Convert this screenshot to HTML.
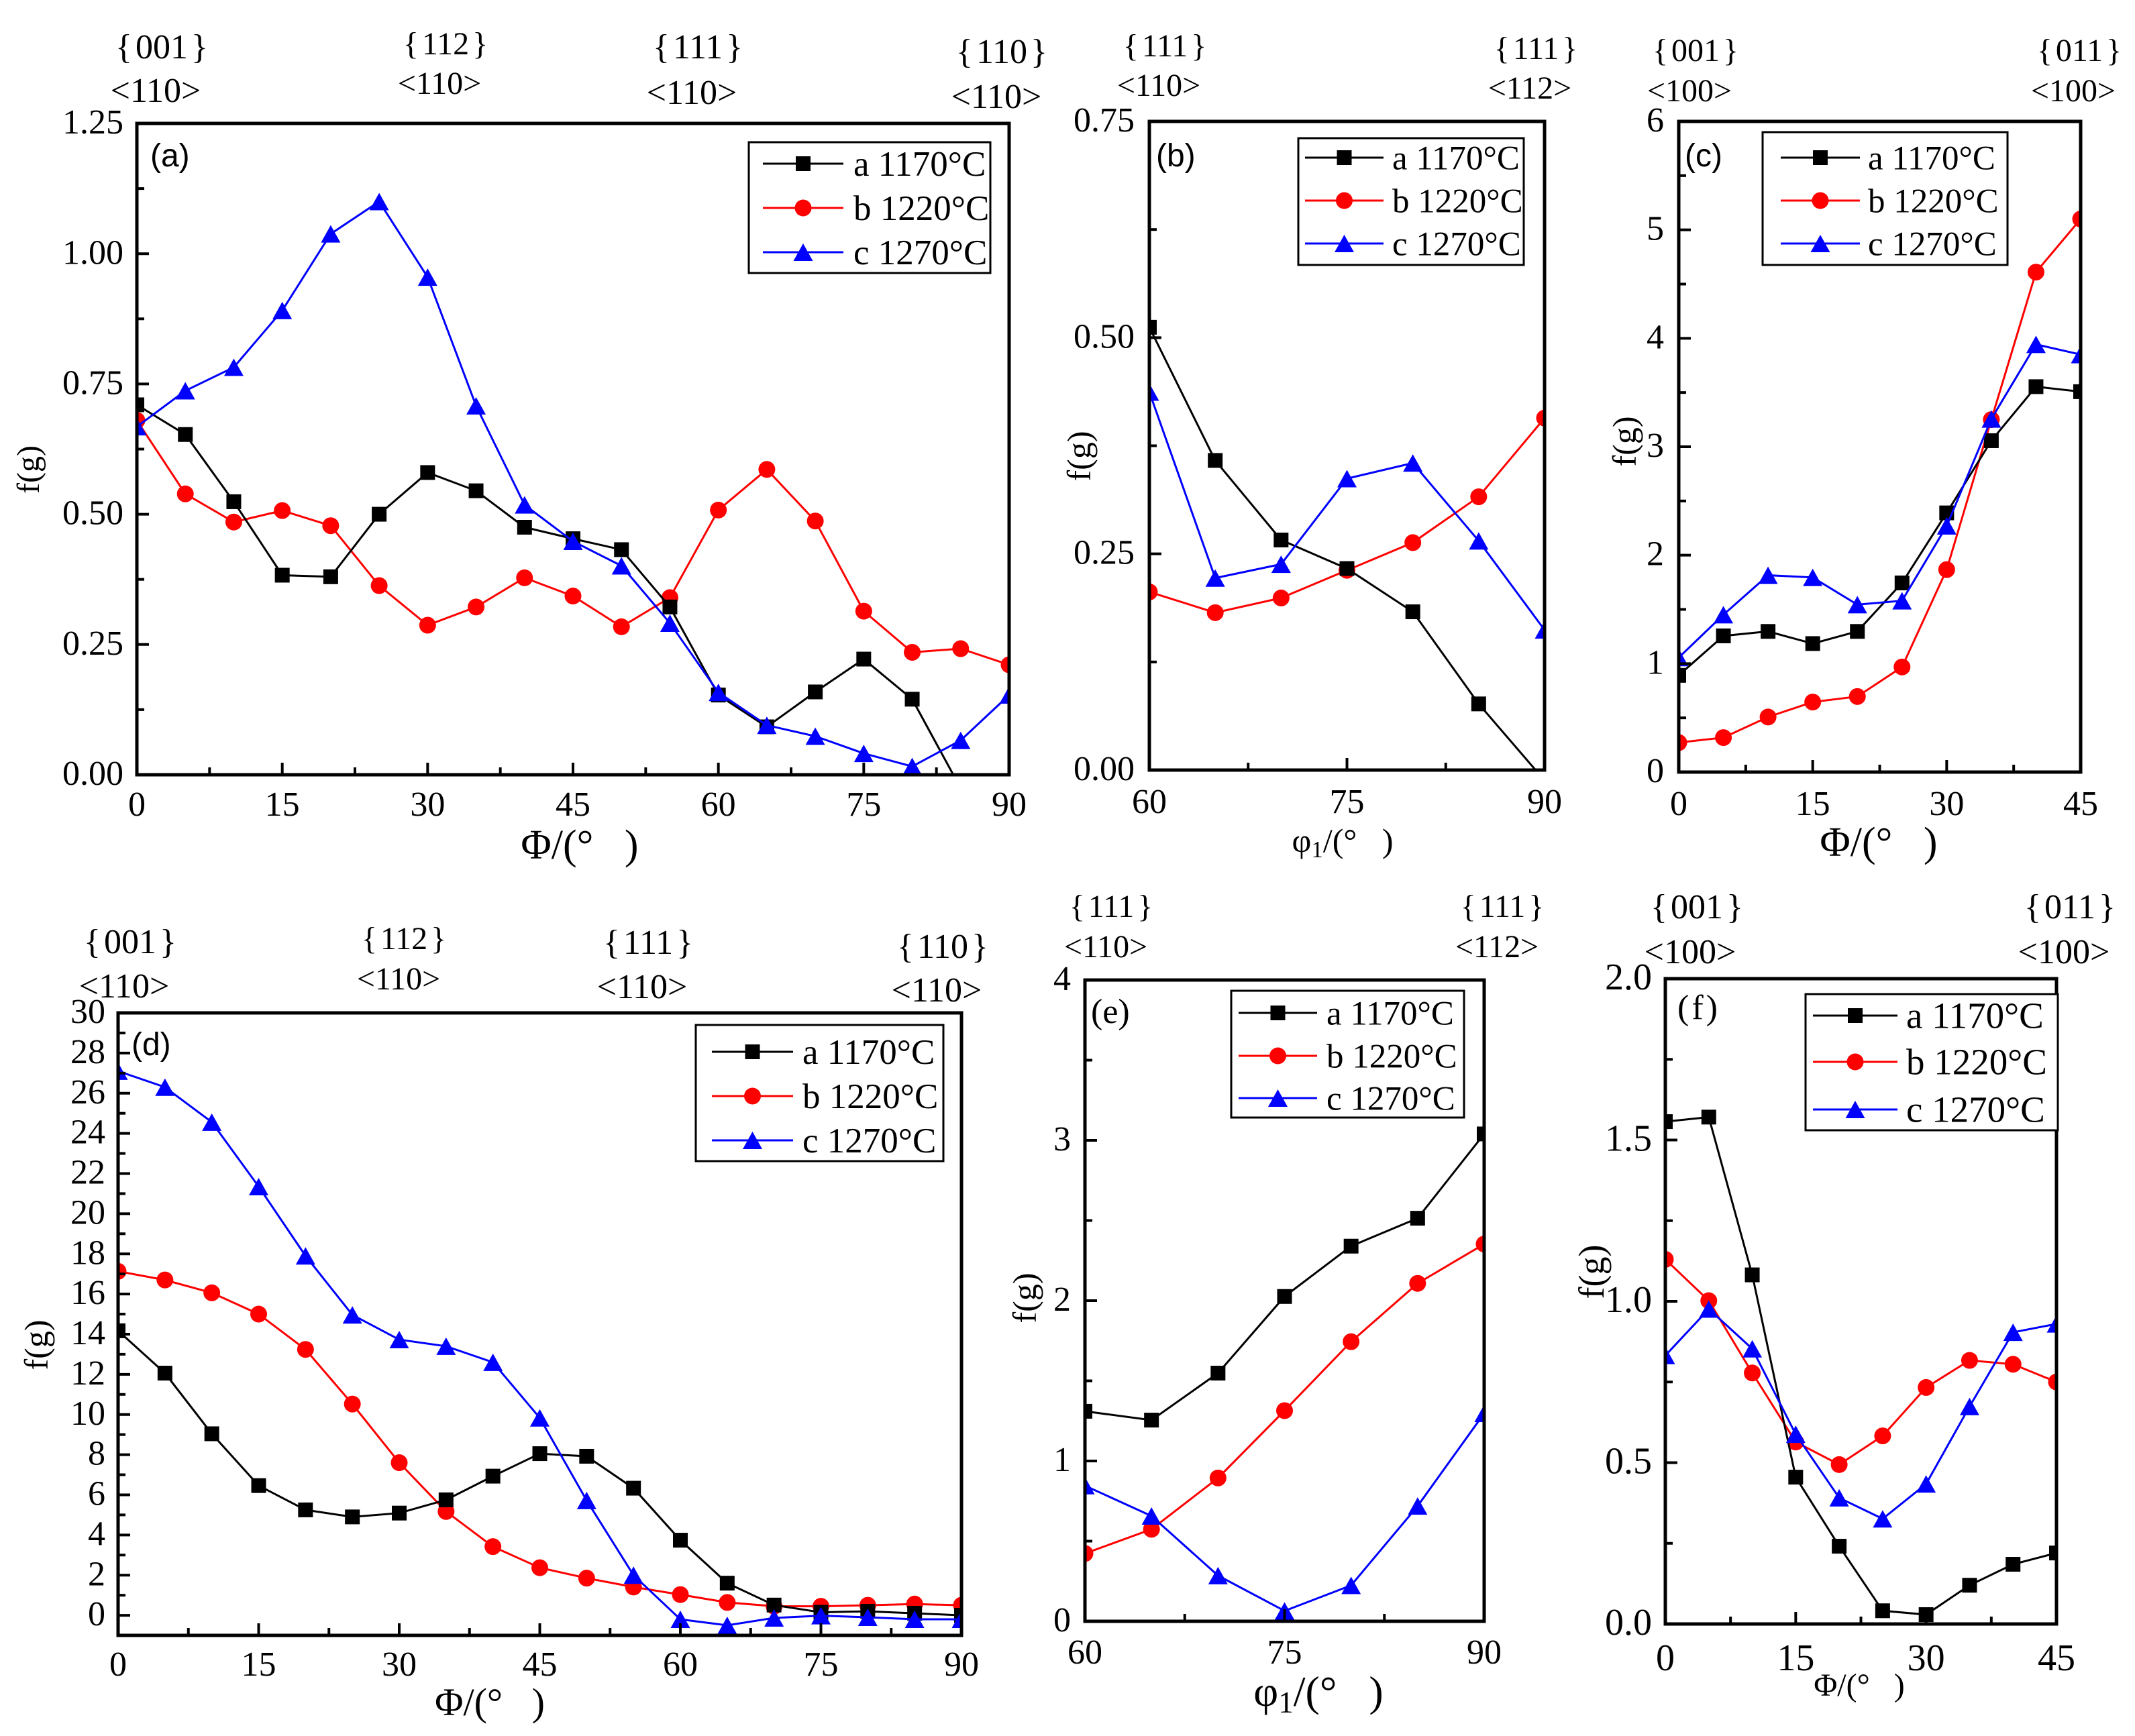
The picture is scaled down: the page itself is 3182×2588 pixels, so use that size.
<!DOCTYPE html>
<html lang="en">
<head>
<meta charset="utf-8">
<title>Orientation density f(g) panels</title>
<style>
html,body{margin:0;padding:0;background:#fff}
svg{display:block}
text{font-family:"Liberation Serif","Noto Serif CJK SC",serif;fill:#000;white-space:pre}
.sans{font-family:"Liberation Sans","Noto Sans CJK SC",sans-serif}
</style>
</head>
<body>
<svg id="figure" xmlns="http://www.w3.org/2000/svg" width="3182" height="2588" viewBox="0 0 3182 2588">
<rect x="0" y="0" width="3182" height="2588" fill="#fff"/>

<g font-size="52" text-anchor="middle">
<text x="241" y="87">{<tspan dx="5">001</tspan><tspan dx="5">}</tspan></text>
<text x="232" y="152">&lt;110&gt;</text>
<text x="664" y="81" font-size="48">{<tspan dx="5">112</tspan><tspan dx="5">}</tspan></text>
<text x="655" y="140" font-size="48">&lt;110&gt;</text>
<text x="1040" y="87">{<tspan dx="5">111</tspan><tspan dx="5">}</tspan></text>
<text x="1031" y="155">&lt;110&gt;</text>
<text x="1493" y="94">{<tspan dx="5">110</tspan><tspan dx="5">}</tspan></text>
<text x="1485" y="161">&lt;110&gt;</text>
</g>
<g font-size="48" text-anchor="middle">
<text x="1736" y="84">{<tspan dx="5">111</tspan><tspan dx="5">}</tspan></text>
<text x="1727" y="143">&lt;110&gt;</text>
<text x="2289" y="88">{<tspan dx="5">111</tspan><tspan dx="5">}</tspan></text>
<text x="2280" y="147">&lt;112&gt;</text>
</g>
<g font-size="48" text-anchor="middle">
<text x="2527" y="91">{<tspan dx="5">001</tspan><tspan dx="5">}</tspan></text>
<text x="2518" y="151">&lt;100&gt;</text>
<text x="3099" y="91">{<tspan dx="5">011</tspan><tspan dx="5">}</tspan></text>
<text x="3090" y="151">&lt;100&gt;</text>
</g>
<g font-size="52" text-anchor="middle">
<text x="194" y="1421">{<tspan dx="5">001</tspan><tspan dx="5">}</tspan></text>
<text x="185" y="1487">&lt;110&gt;</text>
<text x="602" y="1415" font-size="48">{<tspan dx="5">112</tspan><tspan dx="5">}</tspan></text>
<text x="594" y="1475" font-size="48">&lt;110&gt;</text>
<text x="966" y="1422">{<tspan dx="5">111</tspan><tspan dx="5">}</tspan></text>
<text x="957" y="1488">&lt;110&gt;</text>
<text x="1405" y="1428">{<tspan dx="5">110</tspan><tspan dx="5">}</tspan></text>
<text x="1396" y="1493">&lt;110&gt;</text>
</g>
<g font-size="48" text-anchor="middle">
<text x="1656" y="1367">{<tspan dx="5">111</tspan><tspan dx="5">}</tspan></text>
<text x="1648" y="1427">&lt;110&gt;</text>
<text x="2239" y="1367">{<tspan dx="5">111</tspan><tspan dx="5">}</tspan></text>
<text x="2231" y="1427">&lt;112&gt;</text>
</g>
<g font-size="52" text-anchor="middle">
<text x="2529" y="1369">{<tspan dx="5">001</tspan><tspan dx="5">}</tspan></text>
<text x="2519" y="1436">&lt;100&gt;</text>
<text x="3085" y="1369">{<tspan dx="5">011</tspan><tspan dx="5">}</tspan></text>
<text x="3076" y="1436">&lt;100&gt;</text>
</g>

<g text-anchor="middle">
<text x="864" y="1280" font-size="62">Φ/(°   )</text>
<text x="2001" y="1270" font-size="50">φ<tspan font-size="35" dy="8">1</tspan><tspan dy="-8">/(°   )</tspan></text>
<text x="2800" y="1276" font-size="62">Φ/(°   )</text>
<text x="730" y="2557" font-size="58">Φ/(°   )</text>
<text x="1965" y="2543" font-size="64">φ<tspan font-size="45" dy="10">1</tspan><tspan dy="-10">/(°   )</tspan></text>
<text x="2771" y="2528" font-size="48">Φ/(°   )</text>
</g>

<g text-anchor="middle">
<text transform="translate(58 700) rotate(-90)" font-size="48">f(g)</text>
<text transform="translate(1625 680) rotate(-90)" font-size="50">f(g)</text>
<text transform="translate(2438 658) rotate(-90)" font-size="50">f(g)</text>
<text transform="translate(71 2005) rotate(-90)" font-size="50">f(g)</text>
<text transform="translate(1544 1935) rotate(-90)" font-size="50">f(g)</text>
<text transform="translate(2390 1896) rotate(-90)" font-size="54">f(g)</text>
</g>

<g id="plots"></g>

<g>
<text class="sans" x="224" y="248" font-size="48">(a)</text>
<text class="sans" x="1723" y="248" font-size="48">(b)</text>
<text class="sans" x="2511" y="248" font-size="48">(c)</text>
<text class="sans" x="196" y="1573" font-size="48">(d)</text>
<text x="1626" y="1525" font-size="52">(e)</text>
<text x="2500" y="1519" font-size="52" letter-spacing="4">(f)</text>
</g>
</svg>

<script>
// Shared x-axis values
const phiWide = [0,5,10,15,20,25,30,35,40,45,50,55,60,65,70,75,80,85,90];
const phiNarrow = [0,5,10,15,20,25,30,35,40,45];
const phi1Values = [60,65,70,75,80,85,90];

// Panel (a)
const panelA1170 = [0.71,0.653,0.524,0.383,0.38,0.50,0.58,0.545,0.475,0.453,0.432,0.322,0.153,0.092,0.159,0.222,0.145,-0.026,-0.1];
const panelA1220 = [0.68,0.539,0.485,0.507,0.478,0.363,0.287,0.322,0.378,0.343,0.284,0.34,0.508,0.586,0.487,0.314,0.235,0.242,0.211];
const panelA1270 = [0.668,0.737,0.782,0.891,1.038,1.10,0.955,0.708,0.518,0.448,0.401,0.291,0.158,0.095,0.074,0.041,0.016,0.066,0.153];
// Panel (b)
const panelB1170 = [0.512,0.358,0.266,0.233,0.183,0.0765,-0.012];
const panelB1220 = [0.206,0.182,0.199,0.231,0.263,0.316,0.407];
const panelB1270 = [0.437,0.222,0.238,0.337,0.355,0.265,0.162];
// Panel (c)
const panelC1170 = [0.892,1.256,1.297,1.185,1.297,1.744,2.39,3.056,3.554,3.508];
const panelC1220 = [0.272,0.318,0.508,0.646,0.697,0.969,1.867,3.25,4.61,5.10];
const panelC1270 = [1.056,1.451,1.815,1.795,1.544,1.58,2.27,3.256,3.944,3.85];
// Panel (d)
const panelD1170 = [14.17,12.06,9.04,6.46,5.25,4.9,5.09,5.75,6.93,8.05,7.92,6.33,3.74,1.6,0.51,0.15,0.2,0.1,0];
const panelD1220 = [17.13,16.7,16.06,15,13.24,10.52,7.6,5.17,3.42,2.37,1.85,1.41,1.03,0.64,0.45,0.45,0.5,0.56,0.5];
const panelD1270 = [27.1,26.3,24.56,21.35,17.9,14.96,13.73,13.4,12.6,9.83,5.72,2.0,-0.2,-0.5,-0.13,-0.02,-0.1,-0.2,-0.2];
// Panel (e)
const panelE1170 = [1.31,1.255,1.548,2.026,2.34,2.514,3.04];
const panelE1220 = [0.423,0.574,0.894,1.314,1.744,2.108,2.353];
const panelE1270 = [0.846,0.657,0.285,0.065,0.224,0.719,1.297];
// Panel (f)
const panelF1170 = [1.557,1.571,1.082,0.455,0.241,0.041,0.029,0.12,0.185,0.22];
const panelF1220 = [1.13,1.002,0.778,0.564,0.494,0.583,0.733,0.817,0.805,0.75];
const panelF1270 = [0.832,0.976,0.853,0.588,0.391,0.326,0.434,0.674,0.904,0.93];

// Tick labels
const xTicksWide = ['0','15','30','45','60','75','90'];
const xTicksNarrow = ['0','15','30','45'];
const xTicksPhi1 = ['60','75','90'];
const yTicksA = ['0.00','0.25','0.50','0.75','1.00','1.25'];
const yTicksB = ['0.00','0.25','0.50','0.75'];
const yTicksC = ['0','1','2','3','4','5','6'];
const yTicksD = ['0','2','4','6','8','10','12','14','16','18','20','22','24','26','28','30'];
const yTicksE = ['0','1','2','3','4'];
const yTicksF = ['0.0','0.5','1.0','1.5','2.0'];
const legendLabels = ['a 1170°C','b 1220°C','c 1270°C'];
const seriesColors = ['#000000','#ff0000','#0000ff'];

// Layout only (pixel frames); the data above is separate
const layouts = [
 {id:'a',L:204,R:1504,T:184,B:1155,yMin:0,yMax:1.25,yMinor:0.125,xMinor:7.5,xBase:61,tickFont:52,gapY:20,
  lg:{x:1116,y:212,w:360,h:195,rows:[244,310,376],lx:1137,lw:120,tx:1272,fs:53}},
 {id:'b',L:1713,R:2302,T:181,B:1148,yMin:0,yMax:0.75,yMinor:0.125,xMinor:7.5,xBase:64,tickFont:52,gapY:22,
  lg:{x:1935,y:206,w:336,h:189,rows:[235,299,363],lx:1945,lw:117,tx:2075,fs:51}},
 {id:'c',L:2502,R:3101,T:181,B:1151,yMin:0,yMax:6,yMinor:0.5,xMinor:7.5,xBase:64,tickFont:52,gapY:22,
  lg:{x:2627,y:197,w:365,h:198,rows:[235,299,363],lx:2654,lw:118,tx:2784,fs:51}},
 {id:'d',L:176,R:1433,T:1510,B:2438,yMin:-1,yMax:30,yMinor:1,xMinor:7.5,xBase:60,tickFont:52,gapY:19,
  lg:{x:1037,y:1528,w:369,h:203,rows:[1568,1634,1700],lx:1061,lw:121,tx:1196,fs:53}},
 {id:'e',L:1617,R:2212,T:1461,B:2417,yMin:0,yMax:4,yMinor:0.5,xMinor:7.5,xBase:63,tickFont:52,gapY:21,
  lg:{x:1835,y:1477,w:347,h:189,rows:[1510,1574,1637],lx:1846,lw:117,tx:1977,fs:51}},
 {id:'f',L:2482,R:3065,T:1459,B:2421,yMin:0,yMax:2,yMinor:0.25,xMinor:7.5,xBase:69,tickFont:56,gapY:20,
  lg:{x:2691,y:1482,w:376,h:203,rows:[1514,1583,1654],lx:2702,lw:126,tx:2841,fs:55}}
];

const panelData = {
 a:{xs:phiWide,series:[panelA1170,panelA1220,panelA1270],xTicks:xTicksWide,yTicks:yTicksA},
 b:{xs:phi1Values,series:[panelB1170,panelB1220,panelB1270],xTicks:xTicksPhi1,yTicks:yTicksB},
 c:{xs:phiNarrow,series:[panelC1170,panelC1220,panelC1270],xTicks:xTicksNarrow,yTicks:yTicksC},
 d:{xs:phiWide,series:[panelD1170,panelD1220,panelD1270],xTicks:xTicksWide,yTicks:yTicksD},
 e:{xs:phi1Values,series:[panelE1170,panelE1220,panelE1270],xTicks:xTicksPhi1,yTicks:yTicksE},
 f:{xs:phiNarrow,series:[panelF1170,panelF1220,panelF1270],xTicks:xTicksNarrow,yTicks:yTicksF}
};

const NS = 'http://www.w3.org/2000/svg';
function mk(tag, attrs, parent){
  const el = document.createElementNS(NS, tag);
  for (const k in attrs) el.setAttribute(k, attrs[k]);
  parent.appendChild(el);
  return el;
}
function drawMarker(kind, cx, cy, color, parent, scale){
  let m;
  if (kind === 0) {
    const s = 22 * scale;
    m = mk('rect', {x:cx - s/2, y:cy - s/2, width:s, height:s, fill:color}, parent);
  } else if (kind === 1) {
    m = mk('circle', {cx:cx, cy:cy, r:12.5 * scale, fill:color}, parent);
  } else {
    const w = 14.5 * scale, h = 13 * scale;
    m = mk('polygon', {points:(cx - w)+','+(cy + h)+' '+(cx + w)+','+(cy + h)+' '+cx+','+(cy - h), fill:color}, parent);
  }
  
  
}

const plots = document.getElementById('plots');
const defs = mk('defs', {}, plots);



layouts.forEach(function(p){
  const d = panelData[p.id];
  const xLo = d.xs[0], xHi = d.xs[d.xs.length - 1];
  const sx = function(v){ return p.L + (v - xLo) / (xHi - xLo) * (p.R - p.L); };
  const sy = function(v){ return p.B - (v - p.yMin) / (p.yMax - p.yMin) * (p.B - p.T); };

  const g = mk('g', {}, plots);
  
  

  const clip = mk('clipPath', {id:'clip-' + p.id}, defs);
  
  
  const clipRect = mk('rect', {x:p.L, y:p.T, width:p.R - p.L, height:p.B - p.T}, clip);
  
  

  const area = mk('g', {'clip-path':'url(#clip-' + p.id + ')'}, g);
  
  

  // draw order: red, black, blue
  [1,0,2].forEach(function(i){
    const vals = d.series[i];
    const sg = mk('g', {}, area);
    
    
    const pts = vals.map(function(v, k){ return sx(d.xs[k]) + ',' + sy(v); }).join(' ');
    const line = mk('polyline', {points:pts, fill:'none', stroke:seriesColors[i], 'stroke-width':3}, sg);
    
    
    vals.forEach(function(v, k){ drawMarker(i, sx(d.xs[k]), sy(v), seriesColors[i], sg, 1); });
  });

  const axes = mk('g', {stroke:'#000', fill:'none'}, g);
  
  

  // x ticks
  for (let v = xLo; v <= xHi + 1e-6; v += p.xMinor) {
    const major = Math.abs((v - xLo) / 15 - Math.round((v - xLo) / 15)) < 1e-6;
    const t = mk('line', {x1:sx(v), x2:sx(v), y1:p.B, y2:p.B - (major ? 18 : 11), 'stroke-width':4}, axes);
    
    
  }
  // y ticks
  const major = d.yTicks.map(parseFloat);
  const step = p.yMinor;
  const start = Math.ceil(p.yMin / step - 1e-6);
  for (let n = start; n * step <= p.yMax + 1e-6; n++) {
    const v = n * step;
    const isMajor = major.some(function(m){ return Math.abs(m - v) < 1e-6; });
    const t = mk('line', {x1:p.L, x2:p.L + (isMajor ? 18 : 11), y1:sy(v), y2:sy(v), 'stroke-width':4}, axes);
    
    
  }
  const frame = mk('rect', {x:p.L, y:p.T, width:p.R - p.L, height:p.B - p.T, 'stroke-width':5}, axes);
  
  

  // tick labels
  d.xTicks.forEach(function(label){
    const t = mk('text', {x:sx(parseFloat(label)), y:p.B + p.xBase, 'font-size':p.tickFont, 'text-anchor':'middle'}, g);
    t.textContent = label;
    
    
  });
  d.yTicks.forEach(function(label){
    const t = mk('text', {x:p.L - p.gapY, y:sy(parseFloat(label)) + p.tickFont * 0.29, 'font-size':p.tickFont, 'text-anchor':'end'}, g);
    t.textContent = label;
    
    
  });

  // legend
  const lg = p.lg;
  const lgGroup = mk('g', {}, g);
  
  
  const box = mk('rect', {x:lg.x, y:lg.y, width:lg.w, height:lg.h, fill:'#fff', stroke:'#000', 'stroke-width':3}, lgGroup);
  
  
  legendLabels.forEach(function(label, i){
    const ry = lg.rows[i];
    const entry = mk('g', {}, lgGroup);
    
    
    const swatch = mk('line', {x1:lg.lx, x2:lg.lx + lg.lw, y1:ry, y2:ry, stroke:seriesColors[i], 'stroke-width':3}, entry);
    
    
    drawMarker(i, lg.lx + lg.lw / 2, ry, seriesColors[i], entry, 1);
    const t = mk('text', {x:lg.tx, y:ry + lg.fs * 0.34, 'font-size':lg.fs}, entry);
    t.textContent = label;
    
    
  });
});
</script>
</body>
</html>
